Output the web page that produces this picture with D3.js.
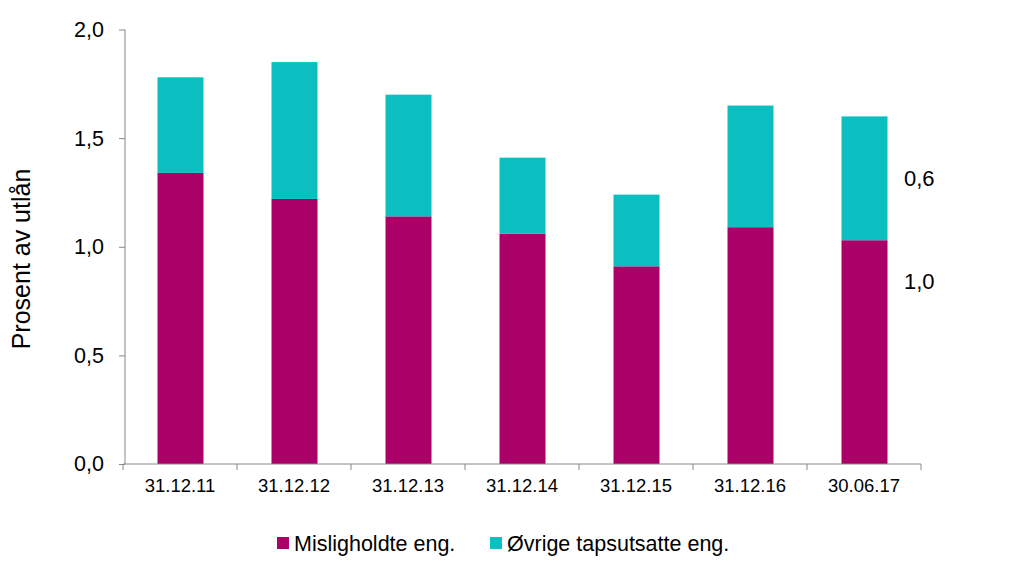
<!DOCTYPE html>
<html><head><meta charset="utf-8">
<script src="https://cdn.jsdelivr.net/npm/d3@7"></script>
<style>body{margin:0;background:#fff}text{font-family:"Liberation Sans",Arial,sans-serif;fill:#000}</style>
</head><body><svg id="c" width="1024" height="576"></svg>
<script>
const categories = ["31.12.11","31.12.12","31.12.13","31.12.14","31.12.15","31.12.16","30.06.17"];
const mislighold = [1.34,1.22,1.14,1.06,0.91,1.09,1.03];
const ovrige = [0.44,0.63,0.56,0.35,0.33,0.56,0.57];
const seriesNames = ["Misligholdte eng.","Øvrige tapsutsatte eng."];
const yTicks = [0,0.5,1.0,1.5,2.0];
const endLabels = ["1,0","0,6"];
const colors = ["#AB0067","#0BBFC1"];

const svg = d3.select("#c");
const xb = d3.scaleBand().domain(categories).range([123,921]);
const y = d3.scaleLinear().domain([0,2]).range([464,29.5]);
const fmt = v => d3.format(".1f")(v).replace(".",",");

const data = categories.map((c,i)=>({cat:c, m:mislighold[i], o:ovrige[i]}));
const stack = d3.stack().keys(["m","o"])(data);

svg.append("g").selectAll("g").data(stack).join("g").attr("fill",(d,i)=>colors[i])
  .selectAll("rect").data(d=>d).join("rect")
  .attr("x",d=>xb(d.data.cat)+xb.bandwidth()/2-22.5).attr("width",46)
  .attr("y",d=>y(d[1])).attr("height",d=>y(d[0])-y(d[1]));

// y axis
const ya = svg.append("g").attr("transform","translate(125,0)")
  .call(d3.axisLeft(y).tickValues(yTicks).tickFormat(fmt).tickSize(6).tickPadding(15));
ya.select(".domain").attr("stroke","#888").attr("d","M0,"+y(2)+"V"+y(0));
ya.selectAll(".tick line").attr("stroke","#888");
ya.selectAll("text").attr("font-size",21.5).style("font-family","Liberation Sans, Arial, sans-serif");

// x axis
const xa = svg.append("g").attr("transform","translate(0,464)")
  .call(d3.axisBottom(xb).tickSize(0).tickPadding(15));
xa.select(".domain").attr("stroke","#888").attr("d","M123,0H921");
xa.selectAll("text").attr("font-size",18.5).style("font-family","Liberation Sans, Arial, sans-serif");
const bounds = categories.map(c=>xb(c)).concat([xb(categories[categories.length-1])+xb.bandwidth()]);
svg.append("g").selectAll("line").data(bounds).join("line")
  .attr("x1",d=>d).attr("x2",d=>d).attr("y1",464).attr("y2",470).attr("stroke","#888");

// y title
svg.append("text").attr("transform","translate(30,259) rotate(-90)").attr("text-anchor","middle")
  .attr("font-size",25).text("Prosent av utlån");

// end labels
const last = data[data.length-1];
const lx = xb(last.cat)+xb.bandwidth()/2+40;
svg.append("text").attr("x",lx).attr("y",y(last.m+last.o/2)).attr("dy","0.35em").attr("font-size",22).text(endLabels[1]);
svg.append("text").attr("x",lx).attr("y",y(last.m*0.815)).attr("dy","0.35em").attr("font-size",22).text(endLabels[0]);

// legend
const lg = svg.append("g");
const lpos = [277,490];
seriesNames.forEach((n,i)=>{
  lg.append("rect").attr("x",lpos[i]).attr("y",537).attr("width",12).attr("height",12).attr("fill",colors[i]);
  lg.append("text").attr("x",lpos[i]+17).attr("y",543).attr("dy","0.35em").attr("font-size",21.5).text(n);
});
</script></body></html>
